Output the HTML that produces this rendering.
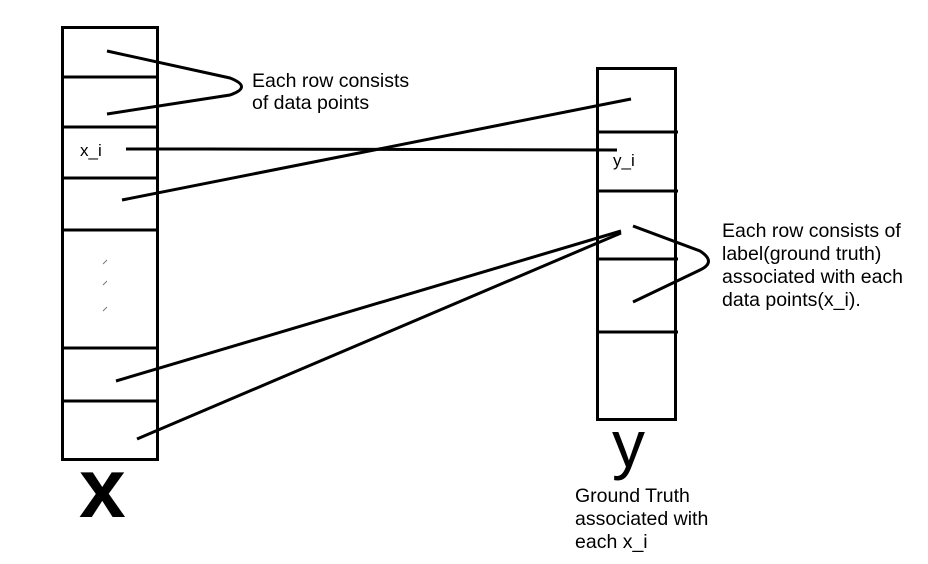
<!DOCTYPE html>
<html><head><style>html,body{margin:0;padding:0;background:#fff}svg{display:block}text{font-family:"Liberation Sans",Arial,sans-serif;fill:#000}</style></head>
<body>
<svg width="928" height="564" viewBox="0 0 928 564" xmlns="http://www.w3.org/2000/svg">
<g stroke="#000" stroke-width="3" fill="none">
<rect x="62.5" y="27.5" width="95" height="432"/>
<line x1="61" y1="77" x2="158" y2="77"/>
<line x1="61" y1="127" x2="158" y2="127"/>
<line x1="61" y1="178" x2="158" y2="178"/>
<line x1="61" y1="230" x2="158" y2="230"/>
<line x1="61" y1="348" x2="158" y2="348"/>
<line x1="61" y1="401" x2="158" y2="401"/>
<rect x="597.5" y="68.5" width="78" height="351"/>
<line x1="597" y1="132" x2="678" y2="132"/>
<line x1="597" y1="191" x2="678" y2="191"/>
<line x1="597" y1="259" x2="678" y2="259"/>
<line x1="597" y1="332" x2="678" y2="332"/>
<path d="M107 51 L230 78 Q253 87 230 95 L107 114"/>
<path d="M126 149 L208 149 L617 150"/>
<line x1="122" y1="200" x2="631" y2="99"/>
<line x1="116" y1="381" x2="621" y2="231"/>
<line x1="137" y1="439" x2="621" y2="233"/>
<path d="M633 226 L700 251 Q717 262 700 270 L633 302"/>
</g>
<g stroke="#777" stroke-width="1">
<line x1="103" y1="264" x2="107" y2="260"/>
<line x1="103" y1="285" x2="107" y2="281"/>
<line x1="103" y1="311" x2="107" y2="307"/>
</g>
<g font-size="19.5">
<text x="252" y="87">Each row consists</text>
<text x="252" y="109">of data points</text>
<text x="722" y="237">Each row consists of</text>
<text x="722" y="260">label(ground truth)</text>
<text x="722" y="283">associated with each</text>
<text x="722" y="306">data points(x_i).</text>
<text x="575" y="502">Ground Truth</text>
<text x="575" y="525">associated with</text>
<text x="575" y="548">each x_i</text>
</g>
<text x="80" y="156" font-size="17">x_i</text>
<text x="613" y="166" font-size="17">y_i</text>
<text x="79" y="517" font-size="84" font-weight="bold">x</text>
<text x="612" y="467" font-size="66">y</text>
</svg>
</body></html>
